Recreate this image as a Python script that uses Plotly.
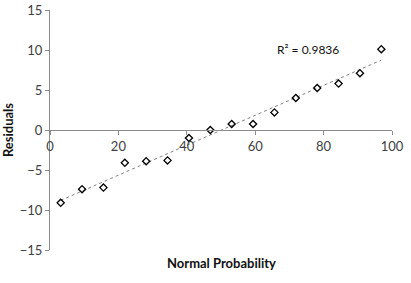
import numpy as np
import plotly.graph_objects as go

normal_prob = [3.125, 9.375, 15.625, 21.875, 28.125, 34.375, 40.625, 46.875,
               53.125, 59.375, 65.625, 71.875, 78.125, 84.375, 90.625, 96.875]
residuals = [-9.1, -7.4, -7.2, -4.1, -3.9, -3.8, -1.0, 0.0,
             0.75, 0.75, 2.2, 4.0, 5.25, 5.8, 7.1, 10.1]
x_ticks = [0, 20, 40, 60, 80, 100]
y_ticks = [-15, -10, -5, 0, 5, 10, 15]
r2_label = "R\u00b2 = 0.9836"

slope, intercept = np.polyfit(normal_prob, residuals, 1)
fit_x = [normal_prob[0], normal_prob[-1]]
fit_y = [slope * v + intercept for v in fit_x]

font = "Lato, 'Open Sans', sans-serif"
axis_color = "#8c8c8c"

fig = go.Figure()
fig.add_trace(go.Scatter(x=fit_x, y=fit_y, mode="lines",
                         line=dict(color="#808080", width=1, dash="dot"),
                         hoverinfo="skip", showlegend=False))
fig.add_trace(go.Scatter(x=normal_prob, y=residuals, mode="markers",
                         marker=dict(symbol="diamond-open", size=5.5, color="black",
                                     line=dict(width=1.3, color="black")),
                         showlegend=False))

fig.update_layout(
    width=411, height=283,
    margin=dict(l=50, r=19, t=10, b=33),
    paper_bgcolor="white", plot_bgcolor="white",
    font=dict(family=font, size=13, color="#404040"),
    xaxis=dict(range=[0, 100], tickvals=x_ticks, showgrid=False, zeroline=False,
               showline=True, linecolor=axis_color, linewidth=1,
               ticks="outside", ticklen=4, tickcolor=axis_color,
               anchor="free", position=0.5, tickfont=dict(size=13),
               automargin=False),
    yaxis=dict(range=[-15, 15], tickvals=y_ticks, showgrid=False, zeroline=False,
               showline=True, linecolor=axis_color, linewidth=1,
               ticks="outside", ticklen=4, tickcolor=axis_color,
               tickfont=dict(size=13), automargin=False,
               title=dict(text="<b>Residuals</b>", font=dict(size=13, color="#111"),
                          standoff=8)),
    annotations=[
        dict(text="<b>Normal Probability</b>", xref="paper", yref="paper",
             x=0.5, y=0, yshift=-13, showarrow=False,
             font=dict(size=13, color="#111"),
             xanchor="center", yanchor="middle"),
        dict(text=r2_label, x=75.5, y=10.1, xref="x", yref="y", showarrow=False,
             font=dict(size=12, color="#111"), xanchor="center", yanchor="middle"),
    ],
)

fig.write_html("out.html", config={"displayModeBar": False},
               post_script="document.body.style.margin='0';")
